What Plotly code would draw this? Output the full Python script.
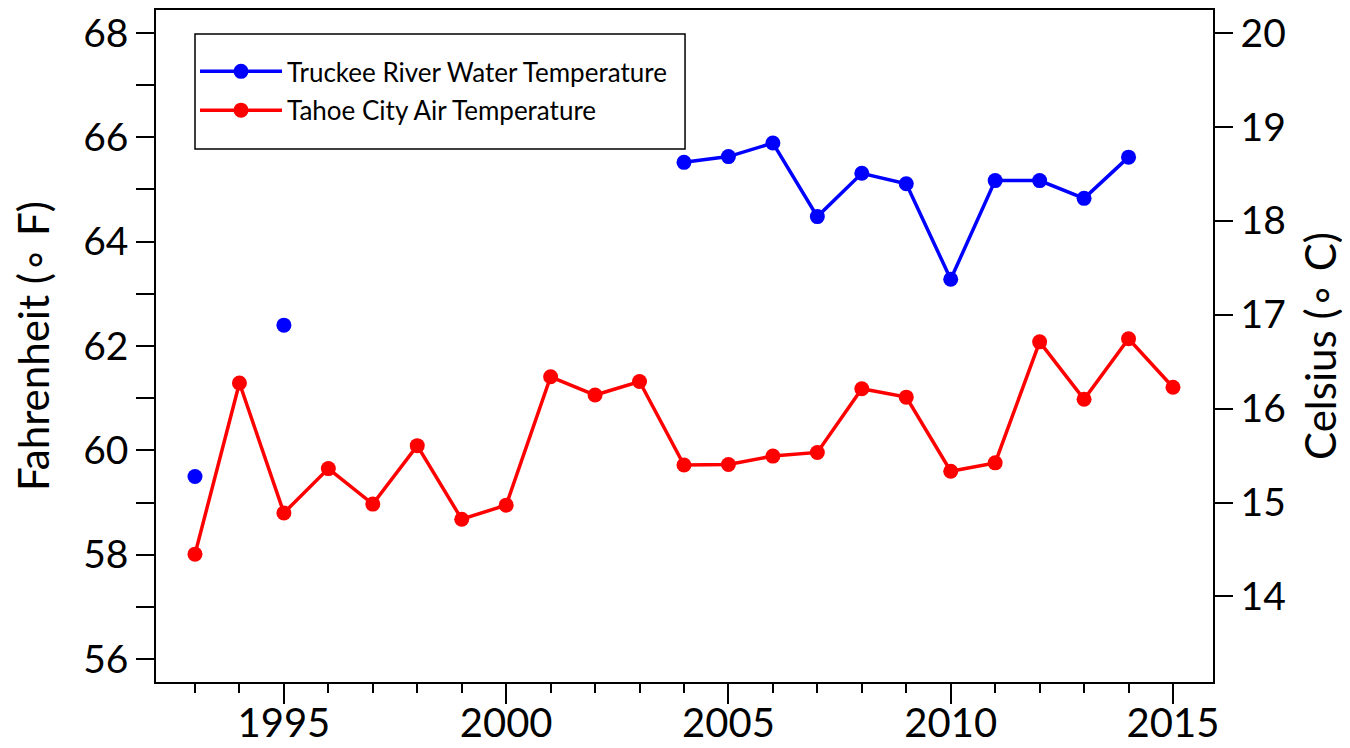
import plotly.graph_objects as go

# Summer mean temperatures (deg F)
years = list(range(1993, 2016))

# Truckee River water temperature (gaps where no record)
water_temp_f = [59.5, None, 62.4, None, None, None, None, None, None, None, None,
                65.52, 65.63, 65.89, 64.48, 65.31, 65.11, 63.28, 65.17, 65.17, 64.83, 65.62, None]

# Tahoe City air temperature
air_temp_f = [58.01, 61.29, 58.80, 59.65, 58.97, 60.09, 58.68, 58.95, 61.41, 61.06, 61.32,
              59.72, 59.73, 59.89, 59.96, 61.18, 61.02, 59.60, 59.76, 62.08, 60.98, 62.14, 61.21]

f_range = [55.56, 68.44]
c_range = [(f - 32) / 1.8 for f in f_range]  # right axis in Celsius, aligned to Fahrenheit

font_name = "Lato, 'DejaVu Sans', sans-serif"

fig = go.Figure()
fig.add_trace(go.Scatter(x=years, y=water_temp_f, mode="lines+markers",
                         name="Truckee River Water Temperature", legendgroup="w",
                         line=dict(color="#0000ff", width=3.5),
                         marker=dict(color="#0000ff", size=15)))
fig.add_trace(go.Scatter(x=years, y=air_temp_f, mode="lines+markers",
                         name="Tahoe City Air Temperature", legendgroup="a",
                         line=dict(color="#ff0000", width=3.5),
                         marker=dict(color="#ff0000", size=15)))
# invisible trace just to carry the Celsius axis
fig.add_trace(go.Scatter(x=[years[0]], y=[None], yaxis="y2", showlegend=False, hoverinfo="skip"))

axis_common = dict(showline=True, linecolor="black", linewidth=1.5, ticks="outside",
                   tickcolor="black", tickwidth=1.5, showgrid=False, zeroline=False,
                   automargin=False)

# page body has an 8px margin, so the figure is a bit smaller than the window
fig.update_layout(
    width=1342, height=740,
    margin=dict(l=148, r=137, t=2, b=66),
    paper_bgcolor="white", plot_bgcolor="white",
    font=dict(family=font_name, color="black"),
    xaxis=dict(range=[1992.123, 2015.9], tick0=1995, dtick=5, ticklen=20, mirror=True,
               tickfont=dict(size=40), ticklabelstandoff=-15,
               minor=dict(dtick=1, tick0=1993, ticks="outside", ticklen=9,
                          tickcolor="black", tickwidth=1.5),
               **axis_common),
    yaxis=dict(range=f_range, tick0=56, dtick=2, ticklen=18, mirror=True,
               tickfont=dict(size=39),
               title=dict(text="Fahrenheit (\u2218 F)", font=dict(size=42), standoff=40),
               minor=dict(dtick=1, tick0=56, ticks="outside", ticklen=18,
                          tickcolor="black", tickwidth=1.5),
               **axis_common),
    yaxis2=dict(range=c_range, overlaying="y", side="right", tick0=14, dtick=1, ticklen=18,
                tickfont=dict(size=39),
                title=dict(text="Celsius (\u2218 C)", font=dict(size=42), standoff=22),
                **axis_common),
    # legend frame drawn as a box so its padding can match the original
    shapes=[dict(type="rect", xref="paper", yref="paper", x0=0.0369, x1=0.5005,
                 y0=0.7932, y1=0.9643, line=dict(color="black", width=1.5),
                 fillcolor="white", layer="below")],
    legend=dict(x=0.0369, y=0.9435, xanchor="left", yanchor="top",
                bgcolor="rgba(0,0,0,0)", borderwidth=0,
                font=dict(size=26), tracegroupgap=2, itemwidth=82),
)

fig.write_html("out.html")
